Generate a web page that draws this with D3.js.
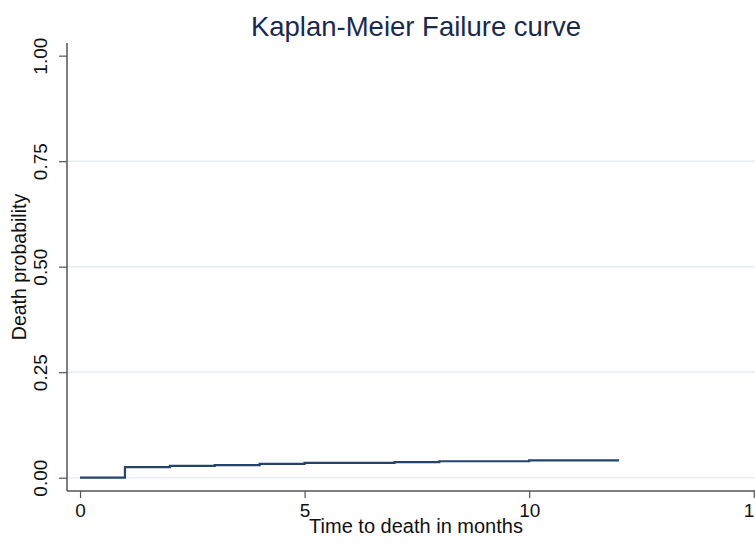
<!DOCTYPE html>
<html>
<head>
<meta charset="UTF-8">
<title>Kaplan-Meier Failure curve</title>
<style>
  body { margin: 0; background: #fff; }
  text { font-family: "Liberation Sans", Arial, sans-serif; }
</style>
</head>
<body>
<div id="chart"></div>
<script src="https://d3js.org/d3.v7.min.js"></script>
<script>
// step times (months) and failure probability after each step
var times = [0, 1, 2, 3, 4, 5, 7, 8, 10, 12];
var failure = [0, 0.025, 0.028, 0.030, 0.033, 0.035, 0.037, 0.039, 0.041, 0.041];
var yTicks = [0, 0.25, 0.5, 0.75, 1];
var xTicks = [0, 5, 10, 15];

var width = 755, height = 545;
var plot = { left: 67, right: 765, top: 43, bottom: 491 };

var svg = d3.select("#chart").append("svg")
    .attr("width", width)
    .attr("height", height);

// domain is a bit wider than the data, as Stata pads the plot region
var x = d3.scaleLinear().domain([-0.29, 15.25]).range([plot.left, plot.right]);
var y = d3.scaleLinear().domain([-0.0315, 1.03]).range([plot.bottom, plot.top]);

// gridlines (none at the top tick)
svg.append("g").selectAll("line")
    .data(yTicks.filter(function(d) { return d < 1; }))
    .join("line")
    .attr("x1", plot.left).attr("x2", width)
    .attr("y1", function(d) { return y(d); })
    .attr("y2", function(d) { return y(d); })
    .attr("stroke", "#e4eff2")
    .attr("stroke-width", 1.5);

// y axis
var yAxis = d3.axisLeft(y).tickValues(yTicks).tickSize(8)
    .tickFormat(d3.format(".2f"));
var gy = svg.append("g")
    .attr("transform", "translate(" + plot.left + ",0)")
    .call(yAxis);
gy.select(".domain").attr("d", "M0," + plot.top + "V" + plot.bottom)
    .attr("stroke", "#555").attr("stroke-width", 1.5);
gy.selectAll(".tick line").attr("stroke", "#555").attr("stroke-width", 1.2);
gy.selectAll(".tick text")
    .attr("transform", "rotate(-90)")
    .attr("x", 0).attr("y", -20)
    .attr("dy", "0")
    .attr("text-anchor", "middle")
    .style("font-size", "19px")
    .attr("fill", "#111");

// x axis
var xAxis = d3.axisBottom(x).tickValues(xTicks).tickSize(7)
    .tickFormat(d3.format("d"));
var gx = svg.append("g")
    .attr("transform", "translate(0," + plot.bottom + ")")
    .call(xAxis);
gx.select(".domain").attr("d", "M" + plot.left + ",0H" + width)
    .attr("stroke", "#555").attr("stroke-width", 1.5);
gx.selectAll(".tick line").attr("stroke", "#555").attr("stroke-width", 1.2);
gx.selectAll(".tick text")
    .attr("y", 13)
    .attr("dy", "0.71em")
    .style("font-size", "19px")
    .attr("fill", "#111");

// failure curve
var pts = times.map(function(t, i) { return [t, failure[i]]; });
var line = d3.line()
    .x(function(d) { return x(d[0]); })
    .y(function(d) { return y(d[1]); })
    .curve(d3.curveStepAfter);
svg.append("path")
    .datum(pts)
    .attr("fill", "none")
    .attr("stroke", "#24446c")
    .attr("stroke-width", 2.2)
    .attr("d", line);

// titles
var cx = (plot.left + plot.right) / 2;
svg.append("text")
    .attr("x", cx).attr("y", 36)
    .attr("text-anchor", "middle")
    .style("font-size", "27.5px")
    .attr("fill", "#1a2a4e")
    .text("Kaplan-Meier Failure curve");

svg.append("text")
    .attr("x", cx).attr("y", 533)
    .attr("text-anchor", "middle")
    .style("font-size", "20px")
    .attr("fill", "#111")
    .text("Time to death in months");

svg.append("text")
    .attr("transform", "translate(26," + ((plot.top + plot.bottom) / 2) + ") rotate(-90)")
    .attr("text-anchor", "middle")
    .style("font-size", "19.5px")
    .attr("fill", "#111")
    .text("Death probability");
</script>
</body>
</html>
